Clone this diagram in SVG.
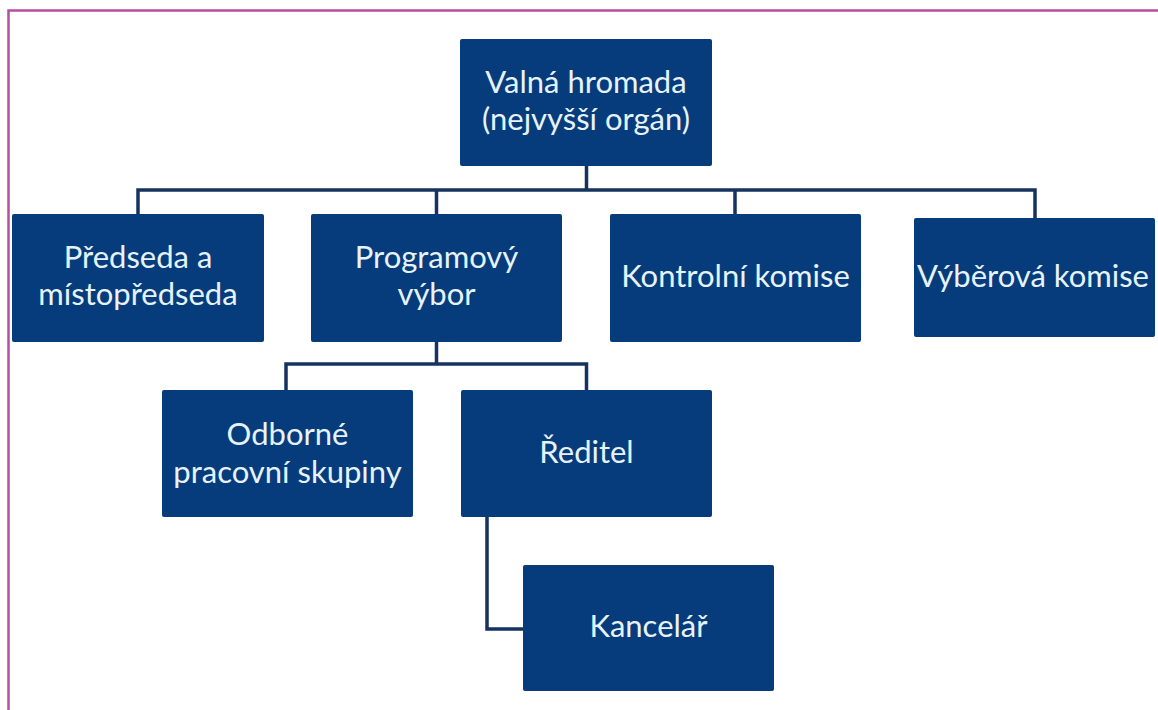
<svg xmlns="http://www.w3.org/2000/svg" width="1158" height="710" viewBox="0 0 1158 710">
<style>
.box{fill:#073c7c;}
.t{font-family:Lato,"Open Sans","Liberation Sans",sans-serif;font-size:31px;fill:#e6f3fb;text-anchor:middle;}
.c{fill:none;stroke:#16335f;stroke-width:3.5;stroke-linejoin:miter;}
.frame{fill:none;stroke:#b64f9e;stroke-width:2.5;}
</style>
<rect x="0" y="0" width="1158" height="710" fill="#ffffff"/>
<path class="frame" d="M8.5 710 V10.5 H1158"/>
<g id="connectors">
<path class="c" d="M586.5 166 V190 M138 214 V190 H1035 V218 M436.5 190 V214 M735 190 V214"/>
<path class="c" d="M436.5 342 V364 M286 390 V364 H586.5 V390"/>
<path class="c" d="M487 517 V629 H523"/>
</g>
<g id="valna">
<rect class="box" x="460" y="39" width="252" height="127" rx="2"/>
<text class="t" x="586" y="93">Valná hromada</text>
<text class="t" x="586" y="130">(nejvyšší orgán)</text>
</g>
<g id="predseda">
<rect class="box" x="12" y="214" width="252" height="128" rx="2"/>
<text class="t" x="138" y="268">Předseda a</text>
<text class="t" x="138" y="305">místopředseda</text>
</g>
<g id="programovy">
<rect class="box" x="311" y="214" width="251" height="128" rx="2"/>
<text class="t" x="436.5" y="268">Programový</text>
<text class="t" x="436.5" y="305">výbor</text>
</g>
<g id="kontrolni">
<rect class="box" x="610" y="214" width="251" height="128" rx="2"/>
<text class="t" x="735.5" y="287">Kontrolní komise</text>
</g>
<g id="vyberova">
<rect class="box" x="914" y="218" width="241" height="119" rx="2"/>
<text class="t" x="1033" y="287">Výběrová komise</text>
</g>
<g id="odborne">
<rect class="box" x="162" y="390" width="251" height="127" rx="2"/>
<text class="t" x="287.5" y="445">Odborné</text>
<text class="t" x="287.5" y="483">pracovní skupiny</text>
</g>
<g id="reditel">
<rect class="box" x="461" y="390" width="251" height="127" rx="2"/>
<text class="t" x="586.5" y="463">Ředitel</text>
</g>
<g id="kancelar">
<rect class="box" x="523" y="565" width="251" height="126" rx="2"/>
<text class="t" x="648.5" y="637">Kancelář</text>
</g>
</svg>
